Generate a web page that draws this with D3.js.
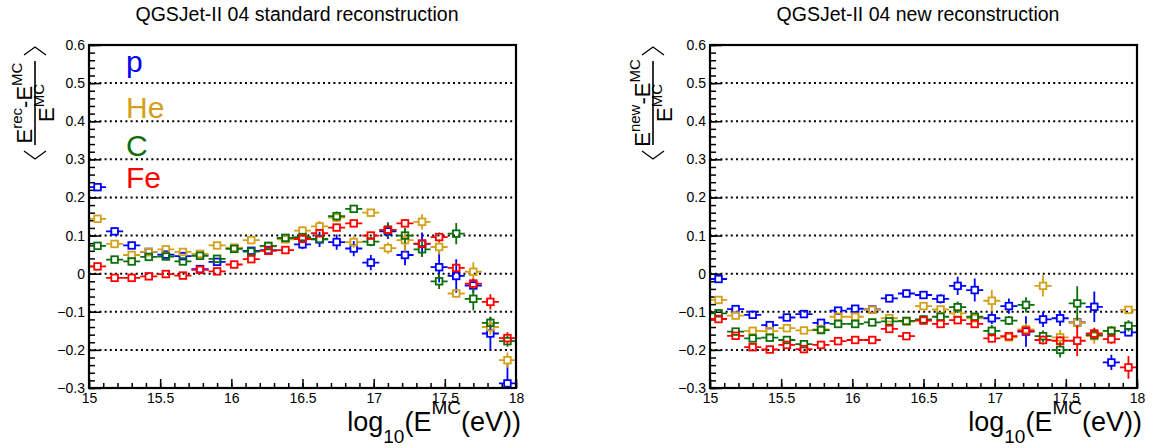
<!DOCTYPE html>
<html>
<head>
<meta charset="utf-8">
<script src="https://cdn.jsdelivr.net/npm/d3@7"></script>
<style>
  body { margin: 0; background: #fff; }
  svg { font-family: "Liberation Sans", Arial, Helvetica, sans-serif; }
</style>
</head>
<body>
<svg id="chart" width="1156" height="448"></svg>
<script>
////////////////////////////
//  data
///////////////////////////
var binCenters = [15.06, 15.18, 15.30, 15.42, 15.54, 15.66, 15.78, 15.90, 16.02, 16.14, 16.26, 16.38, 16.50,
                  16.62, 16.74, 16.86, 16.98, 17.10, 17.22, 17.34, 17.46, 17.58, 17.70, 17.82, 17.94];
var binHalfWidth = 0.06;

var species = ['p', 'He', 'C', 'Fe'];
var speciesColors = ['#0000ff', '#d4a017', '#0b6e0b', '#ff0000'];

// standard reconstruction
var pStd  = [0.227, 0.111, 0.074, 0.057, 0.050, 0.046, 0.012, 0.031, 0.067, 0.060, 0.062, 0.092, 0.077, 0.090, 0.083,
             0.066, 0.029, 0.111, 0.049, 0.078, 0.017, -0.006, -0.031, -0.157, -0.288];
var heStd = [0.144, 0.078, 0.049, 0.057, 0.064, 0.057, 0.052, 0.074, 0.068, 0.088, 0.072, 0.090, 0.113, 0.124, 0.147,
             0.083, 0.160, 0.067, 0.088, 0.136, 0.070, -0.052, 0.005, -0.140, -0.227];
var cStd  = [0.073, 0.037, 0.032, 0.044, 0.045, 0.032, 0.047, 0.039, 0.065, 0.058, 0.073, 0.094, 0.096, 0.091, 0.151,
             0.170, 0.084, 0.115, 0.100, 0.064, -0.020, 0.105, -0.066, -0.129, -0.177];
var feStd = [0.019, -0.011, -0.011, -0.007, -0.001, -0.005, 0.010, 0.006, 0.024, 0.038, 0.060, 0.062, 0.091, 0.106, 0.121,
             0.132, 0.100, 0.115, 0.132, 0.079, 0.096, 0.015, -0.026, -0.074, -0.169];

var pStdErr  = [0.004, 0.004, 0.004, 0.004, 0.004, 0.004, 0.005, 0.005, 0.005, 0.006, 0.010, 0.010, 0.012, 0.020, 0.020,
                0.020, 0.020, 0.020, 0.027, 0.030, 0.040, 0.044, 0.020, 0.044, 0.050];
var heStdErr = [0.004, 0.004, 0.004, 0.004, 0.004, 0.004, 0.004, 0.004, 0.005, 0.005, 0.006, 0.008, 0.010, 0.014, 0.010,
                0.015, 0.010, 0.015, 0.030, 0.020, 0.020, 0.010, 0.025, 0.020, 0.020];
var cStdErr  = [0.004, 0.004, 0.004, 0.004, 0.004, 0.004, 0.004, 0.004, 0.005, 0.005, 0.006, 0.008, 0.010, 0.010, 0.012,
                0.010, 0.012, 0.020, 0.020, 0.020, 0.020, 0.028, 0.030, 0.015, 0.015];
var feStdErr = [0.003, 0.003, 0.003, 0.003, 0.003, 0.003, 0.004, 0.004, 0.004, 0.005, 0.005, 0.006, 0.007, 0.008, 0.008,
                0.008, 0.010, 0.010, 0.010, 0.010, 0.012, 0.012, 0.012, 0.020, 0.015];

// new reconstruction
var pNew  = [-0.014, -0.093, -0.108, -0.135, -0.115, -0.106, -0.129, -0.097, -0.092, -0.094, -0.065, -0.052, -0.056,
             -0.066, -0.032, -0.043, -0.117, -0.085, -0.152, -0.120, -0.117, -0.128, -0.087, -0.233, -0.154];
var heNew = [-0.069, -0.110, -0.150, -0.151, -0.143, -0.149, -0.146, -0.113, -0.113, -0.095, -0.117, -0.126, -0.085,
             -0.094, -0.104, -0.117, -0.071, -0.167, -0.146, -0.032, -0.167, -0.129, -0.164, -0.150, -0.095];
var cNew  = [-0.104, -0.152, -0.170, -0.168, -0.174, -0.185, -0.148, -0.132, -0.132, -0.128, -0.125, -0.124, -0.120,
             -0.113, -0.088, -0.113, -0.150, -0.123, -0.082, -0.164, -0.200, -0.078, -0.161, -0.150, -0.137];
var feNew = [-0.119, -0.163, -0.193, -0.199, -0.187, -0.198, -0.187, -0.177, -0.174, -0.174, -0.145, -0.164, -0.123,
             -0.132, -0.122, -0.132, -0.170, -0.164, -0.150, -0.174, -0.176, -0.176, -0.157, -0.172, -0.246];

var pNewErr  = [0.004, 0.004, 0.004, 0.004, 0.004, 0.004, 0.004, 0.005, 0.005, 0.005, 0.008, 0.010, 0.010, 0.012, 0.024,
                0.030, 0.015, 0.020, 0.040, 0.020, 0.020, 0.015, 0.040, 0.020, 0.010];
var heNewErr = [0.004, 0.004, 0.004, 0.004, 0.004, 0.004, 0.004, 0.004, 0.005, 0.005, 0.006, 0.006, 0.010, 0.010, 0.010,
                0.010, 0.028, 0.010, 0.015, 0.028, 0.020, 0.015, 0.020, 0.010, 0.008];
var cNewErr  = [0.004, 0.004, 0.004, 0.004, 0.004, 0.004, 0.004, 0.004, 0.005, 0.005, 0.006, 0.006, 0.008, 0.010, 0.015,
                0.010, 0.015, 0.012, 0.020, 0.015, 0.020, 0.045, 0.012, 0.012, 0.015];
var feNewErr = [0.003, 0.003, 0.003, 0.003, 0.003, 0.003, 0.003, 0.004, 0.004, 0.004, 0.005, 0.006, 0.006, 0.008, 0.008,
                0.008, 0.010, 0.010, 0.012, 0.012, 0.012, 0.040, 0.015, 0.012, 0.030];

var yMajorTicks = [-0.3, -0.2, -0.1, 0, 0.1, 0.2, 0.3, 0.4, 0.5, 0.6];
var xMajorTicks = [15, 15.5, 16, 16.5, 17, 17.5, 18];
var gridValues  = [-0.2, -0.1, 0, 0.1, 0.2, 0.3, 0.4, 0.5];

///////////////////
// layout
//////////////////
var svg = d3.select('#chart');
var frameW = 427, frameTop = 45, frameBottom = 388;
var markerHalf = 3.3;

var panels = [
  { left: 89,  title: 'QGSJet-II 04 standard reconstruction', titleX: 297, yLabelX: 35,  recTag: 'rec',
    series: [pStd, heStd, cStd, feStd], errors: [pStdErr, heStdErr, cStdErr, feStdErr], legend: true },
  { left: 710, title: 'QGSJet-II 04 new reconstruction',      titleX: 918, yLabelX: 653, recTag: 'new',
    series: [pNew, heNew, cNew, feNew], errors: [pNewErr, heNewErr, cNewErr, feNewErr], legend: false }
];

panels.forEach(function(panel){
  var x = d3.scaleLinear().domain([15, 18]).range([panel.left, panel.left + frameW]);
  var y = d3.scaleLinear().domain([-0.3, 0.6]).range([frameBottom, frameTop]);
  var g = svg.append('g');

  //// dotted grid
  g.selectAll('.grid')
    .data(gridValues)
    .enter()
    .append('line')
      .attr('x1', x(15)).attr('x2', x(18))
      .attr('y1', d => y(d)).attr('y2', d => y(d))
      .attr('stroke', '#000')
      .attr('stroke-width', 2)
      .attr('stroke-dasharray', '2,3.2');

  //// axes (ticks pointing inwards, ROOT style)
  var yFmt = d => d === 0 ? '0' : d3.format('.1f')(d);
  g.append('g')
      .attr('transform', `translate(${x(15)},0)`)
      .call(d3.axisLeft(y).tickValues(yMajorTicks).tickSizeInner(-12).tickSizeOuter(0).tickPadding(4).tickFormat(yFmt));
  g.append('g')
      .attr('transform', `translate(${x(15)},0)`)
      .call(d3.axisLeft(y).ticks(45).tickSizeInner(-6).tickSizeOuter(0).tickFormat(''));

  g.append('g')
      .attr('transform', `translate(0,${y(-0.3)})`)
      .call(d3.axisBottom(x).tickValues(xMajorTicks).tickSizeInner(-9).tickSizeOuter(0).tickPadding(5).tickFormat(d3.format('~f')));
  g.append('g')
      .attr('transform', `translate(0,${y(-0.3)})`)
      .call(d3.axisBottom(x).ticks(30).tickSizeInner(-5).tickSizeOuter(0).tickFormat(''));

  g.selectAll('.domain').remove();
  g.selectAll('.tick line').attr('stroke', '#000').attr('stroke-width', 1.5);
  g.selectAll('.tick text')
    .attr('fill', '#000')
    .style('font-size', '14px')
    .style('font-family', '"Liberation Sans", Arial, sans-serif');

  //// data points with error bars
  panel.series.forEach(function(vals, si){
    var color = speciesColors[si];
    var errs = panel.errors[si];
    var pts = binCenters.map((c, i) => ({ x: c, y: vals[i], e: errs[i] }));
    var sg = g.append('g').attr('stroke', color).attr('fill', 'none').attr('stroke-width', 1.8);

    var pt = sg.selectAll('.pt')
      .data(pts)
      .enter()
      .append('g')
        .classed('pt', true);

    pt.append('path')
      .attr('d', function(d){
        var cx = x(d.x), cy = y(d.y);
        var xl = x(d.x - binHalfWidth), xr = x(d.x + binHalfWidth);
        var yt = Math.max(y(d.y + d.e), frameTop), yb = Math.min(y(d.y - d.e), frameBottom);
        var p = `M${xl},${cy}H${cx - markerHalf}M${cx + markerHalf},${cy}H${xr}`;
        if (cy - yt > markerHalf) p += `M${cx},${yt}V${cy - markerHalf}`;
        if (yb - cy > markerHalf) p += `M${cx},${cy + markerHalf}V${yb}`;
        return p;
      });

    pt.append('rect')
      .attr('x', d => x(d.x) - markerHalf)
      .attr('y', d => y(d.y) - markerHalf)
      .attr('width', markerHalf * 2)
      .attr('height', markerHalf * 2);
  });

  //// frame
  g.append('rect')
    .attr('x', x(15)).attr('y', y(0.6))
    .attr('width', x(18) - x(15)).attr('height', y(-0.3) - y(0.6))
    .attr('fill', 'none').attr('stroke', '#000').attr('stroke-width', 2.2);

  //// title
  g.append('text')
    .attr('x', panel.titleX).attr('y', 21)
    .attr('text-anchor', 'middle')
    .style('font-size', '19.5px')
    .text(panel.title);

  //// x axis title
  var xt = g.append('text')
    .attr('x', x(18) + 5).attr('y', 431)
    .attr('text-anchor', 'end')
    .style('font-size', '27px');
  xt.append('tspan').text('log');
  xt.append('tspan').attr('dy', 12).style('font-size', '19px').text('10');
  xt.append('tspan').attr('dy', -12).text('(E');
  xt.append('tspan').attr('dy', -17).style('font-size', '19px').text('MC');
  xt.append('tspan').attr('dy', 17).text('(eV))');

  //// y axis title: < (E^rec - E^MC) / E^MC >
  var yt = g.append('g')
    .attr('transform', `translate(${panel.yLabelX},103) rotate(-90)`);
  var num = yt.append('text')
    .attr('x', 0).attr('y', -3)
    .attr('text-anchor', 'middle')
    .style('font-size', '22px');
  num.append('tspan').text('E');
  num.append('tspan').attr('dy', -10).style('font-size', '15px').text(panel.recTag);
  num.append('tspan').attr('dy', 10).text('-E');
  num.append('tspan').attr('dy', -10).style('font-size', '15px').text('MC');

  yt.append('line')
    .attr('x1', -42).attr('x2', 42).attr('y1', 0).attr('y2', 0)
    .attr('stroke', '#000').attr('stroke-width', 1.6);

  var den = yt.append('text')
    .attr('x', 0).attr('y', 19)
    .attr('text-anchor', 'middle')
    .style('font-size', '22px');
  den.append('tspan').text('E');
  den.append('tspan').attr('dy', -10).style('font-size', '15px').text('MC');

  yt.append('path')
    .attr('d', 'M-48,-11L-56,0L-48,11M48,-11L56,0L48,11')
    .attr('fill', 'none').attr('stroke', '#000').attr('stroke-width', 1.3);

  //// species labels
  if (panel.legend) {
    var legendY = [72, 118, 156, 188];
    g.selectAll('.lbl')
      .data(species)
      .enter()
      .append('text')
        .attr('x', 126)
        .attr('y', (d, i) => legendY[i])
        .attr('fill', (d, i) => speciesColors[i])
        .style('font-size', '30px')
        .text(d => d);
  }
});
</script>
</body>
</html>
